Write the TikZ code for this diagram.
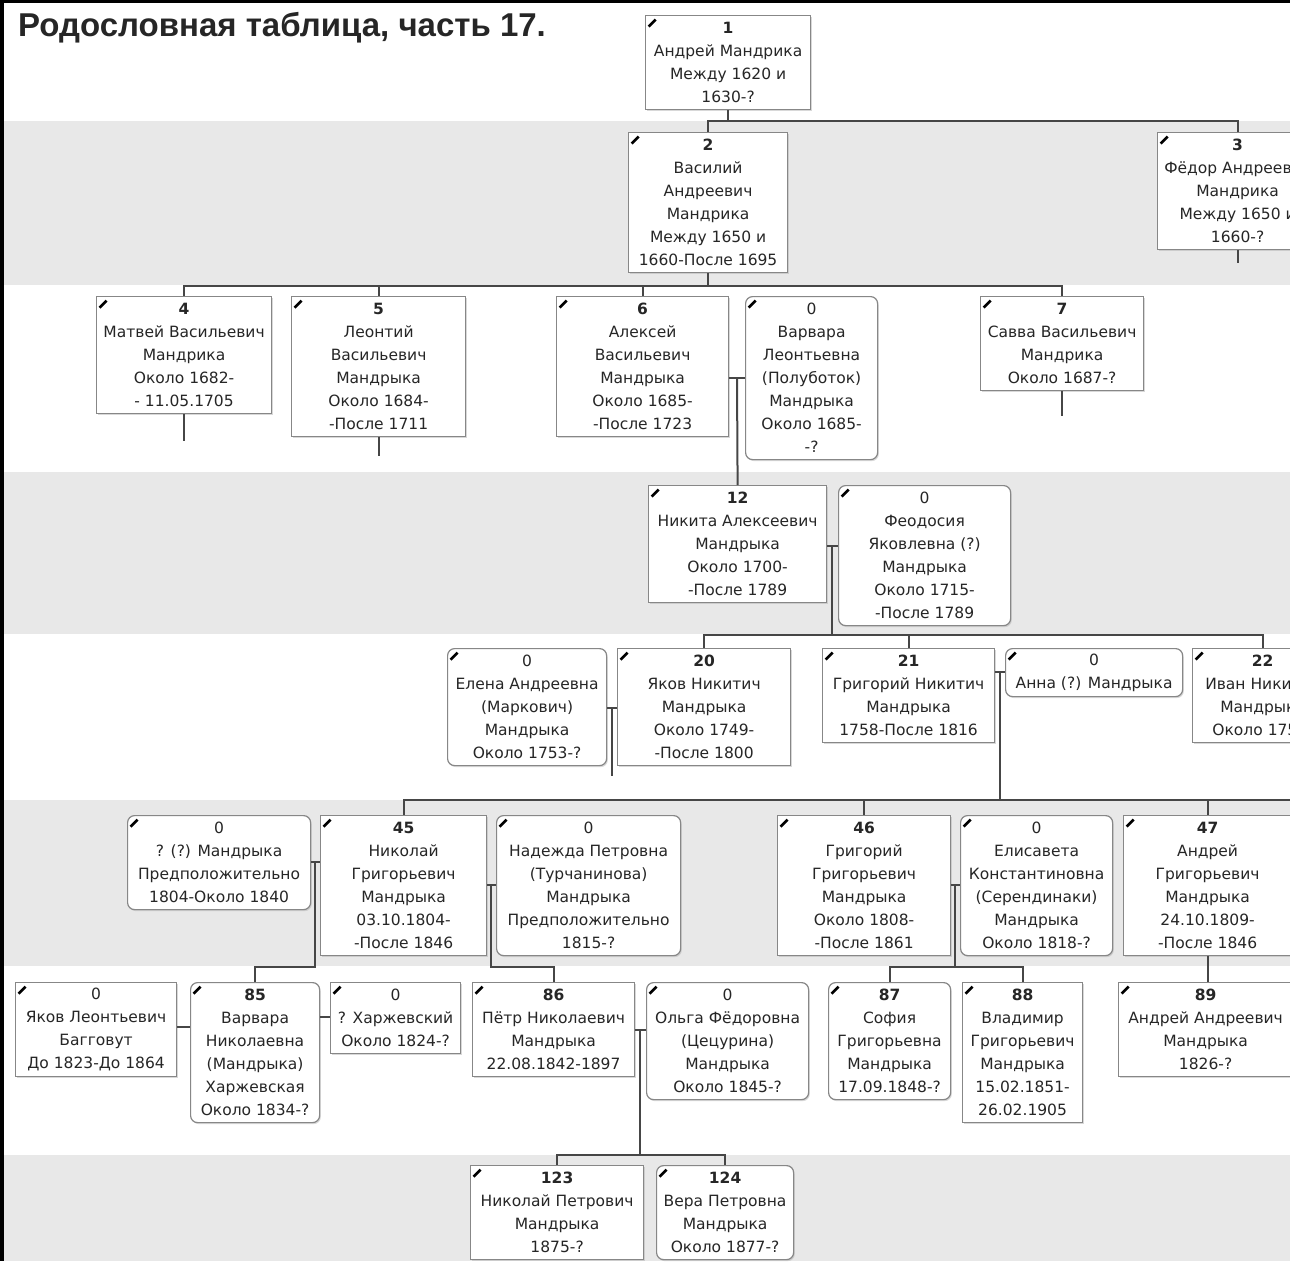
\documentclass[tikz,border=0pt]{standalone}
\usepackage{fontspec}
\setmainfont{DejaVu Sans}
\newfontfamily\titlefont{Liberation Sans}
\usetikzlibrary{shadows}

\definecolor{bandgray}{RGB}{232,232,232}
\definecolor{boxline}{RGB}{135,135,135}
\definecolor{linkgray}{RGB}{70,70,70}

\tikzset{
  man/.style 2 args={draw=boxline, line width=1.2pt, fill=white, anchor=north west,
    align=center, inner sep=1pt, text=black!85,
    font=\fontsize{15.5}{23}\selectfont,
    minimum width=#1, minimum height=#2,
    drop shadow={shadow xshift=1.2pt, shadow yshift=-1.5pt, fill=black!30},
    path picture={\draw[black, line width=2.6pt] ([shift={(3pt,-11pt)}]path picture bounding box.north west) -- ++(7pt,7pt);}},
  woman/.style 2 args={man={#1}{#2}, rounded corners=7pt},
  link/.style={draw=linkgray, line width=2pt},
}

\begin{document}
\begin{tikzpicture}[x=1pt, y=-1pt]
\useasboundingbox (0,0) rectangle (1290,1261);
\begin{scope}
\clip (0,0) rectangle (1290,1261);

% generation bands
\fill[bandgray] (0,121) rectangle (1290,285);
\fill[bandgray] (0,472) rectangle (1290,634);
\fill[bandgray] (0,800) rectangle (1290,966);
\fill[bandgray] (0,1155) rectangle (1290,1261);
\fill (0,0) rectangle (4,1261);
\fill (0,0) rectangle (1290,3);

\node[anchor=north west, inner sep=0pt, text=black!85,
      font=\titlefont\bfseries\fontsize{33}{38}\selectfont] (title) at (18,12)
      {Родословная таблица, часть 17.};

% generation 1
\node[man={165}{94}] (p1) at (645,15) {\textbf{1}\\Андрей Мандрика\\Между 1620 и\\1630-?};

% generation 2
\node[man={159}{140}] (p2) at (628,132) {\textbf{2}\\Василий\\Андреевич\\Мандрика\\Между 1650 и\\1660-После 1695};
\node[man={160}{117}] (p3) at (1157,132) {\textbf{3}\\Фёдор Андреевич\\Мандрика\\Между 1650 и\\1660-?};

% generation 3
\node[man={175}{117}] (p4) at (96,296) {\textbf{4}\\Матвей Васильевич\\Мандрика\\Около 1682-\\- 11.05.1705};
\node[man={174}{140}] (p5) at (291,296) {\textbf{5}\\Леонтий\\Васильевич\\Мандрыка\\Около 1684-\\-После 1711};
\node[man={172}{140}] (p6) at (556,296) {\textbf{6}\\Алексей\\Васильевич\\Мандрыка\\Около 1685-\\-После 1723};
\node[woman={132}{163}] (s6) at (745,296) {0\\Варвара\\Леонтьевна\\(Полуботок)\\Мандрыка\\Около 1685-\\-?};
\node[man={163}{94}] (p7) at (980,296) {\textbf{7}\\Савва Васильевич\\Мандрика\\Около 1687-?};

% generation 4
\node[man={178}{117}] (p12) at (648,485) {\textbf{12}\\Никита Алексеевич\\Мандрыка\\Около 1700-\\-После 1789};
\node[woman={172}{140}] (s12) at (838,485) {0\\Феодосия\\Яковлевна (?)\\Мандрыка\\Около 1715-\\-После 1789};

% generation 5
\node[woman={159}{117}] (s20) at (447,648) {0\\Елена Андреевна\\(Маркович)\\Мандрыка\\Около 1753-?};
\node[man={173}{117}] (p20) at (617,648) {\textbf{20}\\Яков Никитич\\Мандрыка\\Около 1749-\\-После 1800};
\node[man={172}{94}] (p21) at (822,648) {\textbf{21}\\Григорий Никитич\\Мандрыка\\1758-После 1816};
\node[woman={177}{48}] (s21) at (1005,648) {0\\Анна (?) Мандрыка};
\node[man={140}{94}] (p22) at (1192,648) {\textbf{22}\\Иван Никитич\\Мандрыка\\Около 175\phantom{5-}};

% generation 6
\node[woman={183}{94}] (s45a) at (127,815) {0\\? (?) Мандрыка\\Предположительно\\1804-Около 1840};
\node[man={166}{140}] (p45) at (320,815) {\textbf{45}\\Николай\\Григорьевич\\Мандрыка\\03.10.1804-\\-После 1846};
\node[woman={184}{140}] (s45b) at (496,815) {0\\Надежда Петровна\\(Турчанинова)\\Мандрыка\\Предположительно\\1815-?};
\node[man={173}{140}] (p46) at (777,815) {\textbf{46}\\Григорий\\Григорьевич\\Мандрыка\\Около 1808-\\-После 1861};
\node[woman={152}{140}] (s46) at (960,815) {0\\Елисавета\\Константиновна\\(Серендинаки)\\Мандрыка\\Около 1818-?};
\node[man={168}{140}] (p47) at (1123,815) {\textbf{47}\\Андрей\\Григорьевич\\Мандрыка\\24.10.1809-\\-После 1846};

% generation 7
\node[man={161}{94}] (s85a) at (15,982) {0\\Яков Леонтьевич\\Багговут\\До 1823-До 1864};
\node[woman={129}{140}] (p85) at (190,982) {\textbf{85}\\Варвара\\Николаевна\\(Мандрыка)\\Харжевская\\Около 1834-?};
\node[man={130}{71}] (s85b) at (330,982) {0\\? Харжевский\\Около 1824-?};
\node[man={162}{94}] (p86) at (472,982) {\textbf{86}\\Пётр Николаевич\\Мандрыка\\22.08.1842-1897};
\node[woman={162}{117}] (s86) at (646,982) {0\\Ольга Фёдоровна\\(Цецурина)\\Мандрыка\\Около 1845-?};
\node[woman={122}{117}] (p87) at (828,982) {\textbf{87}\\София\\Григорьевна\\Мандрыка\\17.09.1848-?};
\node[man={120}{140}] (p88) at (962,982) {\textbf{88}\\Владимир\\Григорьевич\\Мандрыка\\15.02.1851-\\26.02.1905};
\node[man={174}{94}] (p89) at (1118,982) {\textbf{89}\\Андрей Андреевич\\Мандрыка\\1826-?};

% generation 8
\node[man={173}{94}] (p123) at (470,1165) {\textbf{123}\\Николай Петрович\\Мандрыка\\1875-?};
\node[woman={137}{94}] (p124) at (656,1165) {\textbf{124}\\Вера Петровна\\Мандрыка\\Около 1877-?};

% parent -> children
\draw[link] (p1.south) -- ++(0,11) coordinate (b1) -| (p2.north);
\draw[link] (b1) -| (p3.north);
\draw[link] (p3.south) -- ++(0,13);
\draw[link] (p2.south) -- ++(0,13) coordinate (b2) -| (p4.north);
\draw[link] (b2) -| (p5.north);
\draw[link] (b2) -| (p6.north);
\draw[link] (b2) -| (p7.north);
\draw[link] (p4.south) -- ++(0,27);
\draw[link] (p5.south) -- ++(0,19);
\draw[link] (p7.south) -- ++(0,25);

% couples
\coordinate (m6) at (737,378);
\draw[link] (p6.east |- m6) -- (s6.west |- m6);
\draw[link] (m6) -- (p12.north);

\coordinate (m12) at (832,546);
\coordinate (b12) at (832,635);
\draw[link] (p12.east |- m12) -- (s12.west |- m12);
\draw[link] (m12) -- (b12) -| (p20.north);
\draw[link] (b12) -| (p21.north);
\draw[link] (b12) -| (p22.north);

\coordinate (m20) at (611.5,708);
\draw[link] (s20.east |- m20) -- (p20.west |- m20);
\draw[link] (m20) -- ++(0,68);

\coordinate (m21) at (999.5,672);
\coordinate (b21) at (999.5,800);
\coordinate (b21r) at (1290,800);
\draw[link] (p21.east |- m21) -- (s21.west |- m21);
\draw[link] (m21) -- (b21) -| (p45.north);
\draw[link] (b21) -| (p46.north);
\draw[link] (b21) -| (p47.north);
\draw[link] (b21) -- (b21r);

\coordinate (m45a) at (315,862);
\coordinate (b45a) at (315,967);
\draw[link] (s45a.east |- m45a) -- (p45.west |- m45a);
\draw[link] (m45a) -- (b45a) -| (p85.north);

\coordinate (m45b) at (491,885);
\coordinate (b45b) at (491,967);
\draw[link] (p45.east |- m45b) -- (s45b.west |- m45b);
\draw[link] (m45b) -- (b45b) -| (p86.north);

\coordinate (m46) at (955,885);
\coordinate (b46) at (955,967);
\draw[link] (p46.east |- m46) -- (s46.west |- m46);
\draw[link] (m46) -- (b46) -| (p87.north);
\draw[link] (b46) -| (p88.north);

\draw[link] (p47.south) -- (p47.south |- p89.north);

\coordinate (m85a) at (183,1027);
\draw[link] (s85a.east |- m85a) -- (p85.west |- m85a);
\coordinate (m85b) at (324.5,1017);
\draw[link] (p85.east |- m85b) -- (s85b.west |- m85b);

\coordinate (m86) at (640,1030);
\coordinate (b86) at (640,1155);
\draw[link] (p86.east |- m86) -- (s86.west |- m86);
\draw[link] (m86) -- (b86) -| (p123.north);
\draw[link] (b86) -| (p124.north);
\end{scope}
\end{tikzpicture}
\end{document}
